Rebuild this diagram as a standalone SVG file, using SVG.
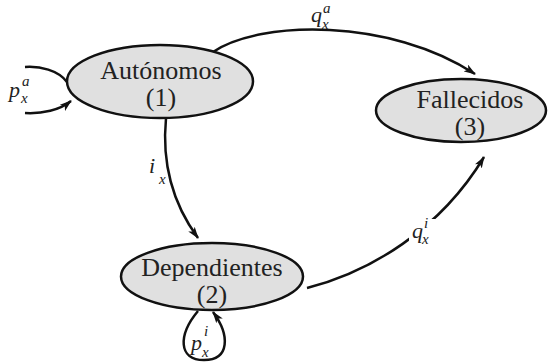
<svg xmlns="http://www.w3.org/2000/svg" width="551" height="364" viewBox="0 0 551 364" font-family="Liberation Serif">
<defs>
<marker id="ah" viewBox="0 0 12 8" refX="11" refY="4" markerWidth="12" markerHeight="8" orient="auto" markerUnits="userSpaceOnUse">
<path d="M0,0 L12,4 L0,8 L3,4 z" fill="#111"/>
</marker>
</defs>
<g id="connectors" fill="none" stroke="#111" stroke-width="2.5">
<path d="M213,52 C260,20 390,18 475,74" marker-end="url(#ah)"/>
<path d="M166,118 C162,160 170,200 198,238" marker-end="url(#ah)"/>
<path d="M307,288 C370,272 440,230 484,157" marker-end="url(#ah)"/>
<path d="M67,82 C58,70 40,66 25,67"/>
<path d="M25,113 C42,114 60,110 71,101" marker-end="url(#ah)"/>
<path d="M198,311 C178,335 178,360 204,360 C230,360 230,335 213,312" marker-end="url(#ah)"/>
</g>
<g id="labels" fill="#222" stroke="none" font-style="italic">
<rect x="409" y="219" width="28" height="26" fill="#fff"/>
<text font-family="Times New Roman" font-size="22" x="311" y="22">q</text>
<text font-family="Times New Roman" font-size="15" x="323" y="13">a</text>
<text font-family="Times New Roman" font-size="15" x="322" y="29">x</text>
<text font-family="Times New Roman" font-size="22" x="149" y="173">i</text>
<text font-family="Times New Roman" font-size="15" x="159" y="184">x</text>
<text font-family="Times New Roman" font-size="22" x="412" y="238">q</text>
<text font-family="Times New Roman" font-size="15" x="424" y="228">i</text>
<text font-family="Times New Roman" font-size="15" x="422" y="244">x</text>
<text font-family="Times New Roman" font-size="22" x="9" y="97">p</text>
<text font-family="Times New Roman" font-size="15" x="22" y="86">a</text>
<text font-family="Times New Roman" font-size="15" x="21" y="103">x</text>
<text font-family="Times New Roman" font-size="22" x="191" y="350">p</text>
<text font-family="Times New Roman" font-size="15" x="204" y="336">i</text>
<text font-family="Times New Roman" font-size="15" x="202" y="357">x</text>
</g>
<g id="autonomos">
<ellipse cx="160" cy="81.5" rx="93" ry="36.5" fill="#e0e0e0" stroke="#111" stroke-width="2.5"/>
<text font-family="Times New Roman" font-size="26" fill="#222" text-anchor="middle" x="161" y="79">Autónomos</text>
<text font-family="Times New Roman" font-size="26" fill="#222" text-anchor="middle" x="161" y="106">(1)</text>
</g>
<g id="fallecidos">
<ellipse cx="461" cy="110.5" rx="85" ry="31.5" fill="#e0e0e0" stroke="#111" stroke-width="2.5"/>
<text font-family="Times New Roman" font-size="26" fill="#222" text-anchor="middle" x="470" y="108">Fallecidos</text>
<text font-family="Times New Roman" font-size="26" fill="#222" text-anchor="middle" x="470" y="135">(3)</text>
</g>
<g id="dependientes">
<ellipse cx="212" cy="276.5" rx="91" ry="33.5" fill="#e0e0e0" stroke="#111" stroke-width="2.5"/>
<text font-family="Times New Roman" font-size="26" fill="#222" text-anchor="middle" x="212" y="276">Dependientes</text>
<text font-family="Times New Roman" font-size="26" fill="#222" text-anchor="middle" x="212" y="303">(2)</text>
</g>
</svg>
